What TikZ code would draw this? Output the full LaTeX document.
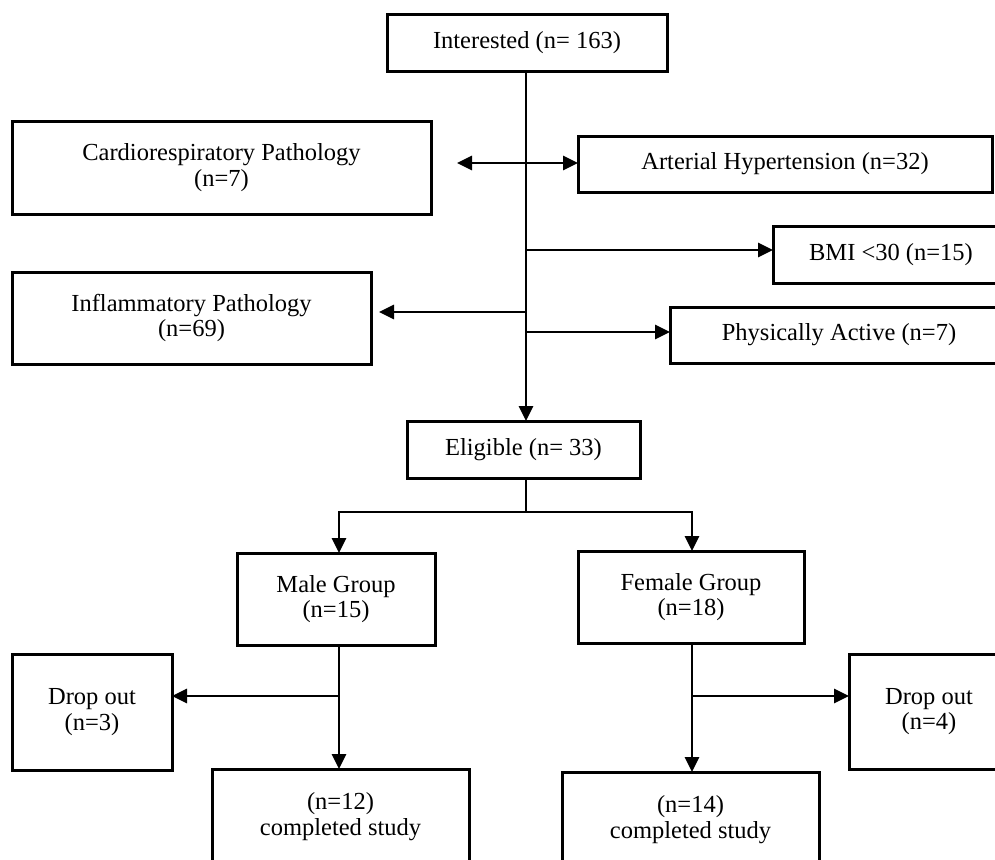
\documentclass[tikz,border=0pt]{standalone}
\usepackage{fontspec}
\setmainfont{Liberation Serif}
\usetikzlibrary{arrows.meta}
\tikzset{
  box/.style={draw, line width=3pt, inner sep=0pt, outer sep=0pt, align=center,
    font=\fontsize{24.5}{25.5}\selectfont},
  conn/.style={line width=2.8pt},
  arr/.style={conn, -{Triangle[length=15pt,width=14pt]}}
}
\begin{document}
\begin{tikzpicture}[x=1pt,y=-1pt]
\useasboundingbox (0,0) rectangle (995,859);
\clip (0,0) rectangle (995,859);
\node[box, minimum width=280pt, minimum height=56pt] (int) at (527,43) {Interested (n= 163)};
\node[box, minimum width=419pt, minimum height=93pt] (cardio) at (221.5,167.5) {Cardiorespiratory Pathology\\(n=7)};
\node[box, minimum width=414pt, minimum height=56pt] (art) at (785,164) {Arterial Hypertension (n=32)};
\node[box, minimum width=236pt, minimum height=57pt] (bmi) at (891,254.5) {BMI <30 (n=15)};
\node[box, minimum width=359pt, minimum height=92pt] (infl) at (191.5,318) {Inflammatory Pathology\\(n=69)};
\node[box, minimum width=338pt, minimum height=56pt] (phys) at (839,335) {Physically Active (n=7)};
\node[box, minimum width=233pt, minimum height=57pt] (elig) at (523.5,449.5) {Eligible (n= 33)};
\node[box, minimum width=198pt, minimum height=92pt] (male) at (336,599) {Male Group\\(n=15)};
\node[box, minimum width=226pt, minimum height=92pt] (female) at (691,597) {Female Group\\(n=18)};
\node[box, minimum width=160pt, minimum height=116pt] (drop1) at (92,712) {Drop out\\(n=3)};
\node[box, minimum width=160pt, minimum height=115pt] (drop2) at (929,711.5) {Drop out\\(n=4)};
\node[box, minimum width=257pt, minimum height=95pt] (comp1) at (340.5,816.5) {(n=12)\\completed study};
\node[box, minimum width=257pt, minimum height=95pt] (comp2) at (690.5,819.5) {(n=14)\\completed study};
\coordinate (spineX) at (526,0);
\coordinate (mX) at (339,0);
\coordinate (fX) at (692,0);
\coordinate (b1) at (526,163);
\coordinate (b2) at (526,250);
\coordinate (b3) at (526,312);
\coordinate (b4) at (526,332);
\coordinate (e1) at (526,512);
\coordinate (m1) at (339,696);
\coordinate (f1) at (692,696);
\draw[arr] (int.south -| spineX) -- (elig.north -| spineX);
\draw[arr, shorten >=26pt] (b1) -- (cardio.east |- b1);
\draw[arr] (b1) -- (art.west |- b1);
\draw[arr] (b2) -- (bmi.west |- b2);
\draw[arr, shorten >=8pt] (b3) -- (infl.east |- b3);
\draw[arr] (b4) -- (phys.west |- b4);
\draw[conn] (elig.south -| spineX) -- (e1);
\draw[arr] (e1) -| (male.north -| mX);
\draw[arr] (e1) -| (female.north -| fX);
\draw[arr] (male.south -| mX) -- (comp1.north -| mX);
\draw[arr] (m1) -- (drop1.east |- m1);
\draw[arr] (female.south -| fX) -- (comp2.north -| fX);
\draw[arr] (f1) -- (drop2.west |- f1);
\end{tikzpicture}
\end{document}
